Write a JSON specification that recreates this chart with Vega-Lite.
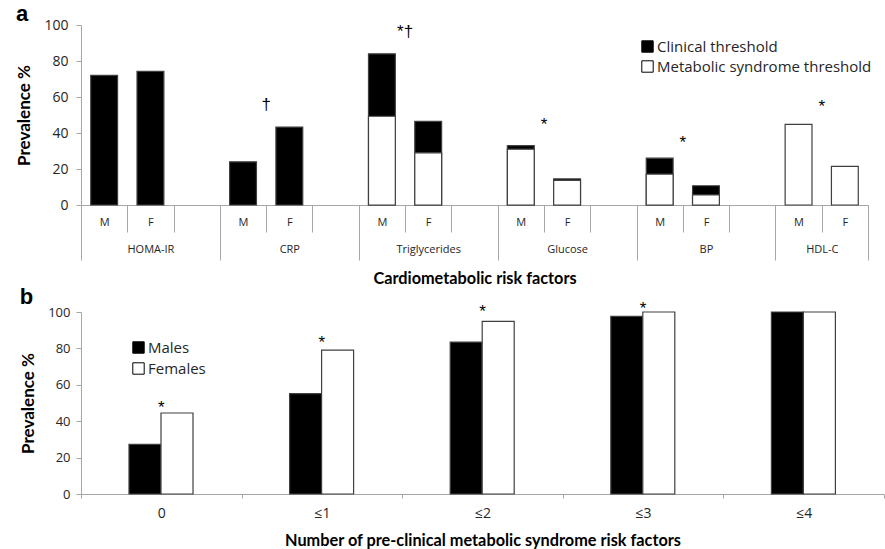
{
  "$schema": "https://vega.github.io/schema/vega-lite/v6.json",
  "padding": {"left": 15, "top": 3, "right": 0, "bottom": 0},
  "spacing": -2,
  "resolve": {"scale": {"fill": "independent"}, "legend": {"fill": "independent"}},
  "config": {
    "font": "Lato",
    "view": {"stroke": null},
    "axis": {
      "grid": false,
      "domainColor": "#a6a6a6",
      "tickColor": "#a6a6a6",
      "labelColor": "#262626",
      "titleColor": "#000000",
      "labelFont": "Open Sans",
      "titleFont": "Lato",
      "titleFontWeight": "bold",
      "titleFontSize": 16.3
    },
    "axisY": {"labelOverlap": false},
    "legend": {"labelFont": "Open Sans", "labelColor": "#262626", "labelLimit": 400},
    "title": {"font": "Liberation Sans", "fontWeight": "bold", "fontSize": 22, "color": "#000000"}
  },
  "vconcat": [
    {
      "width": 787,
      "height": 180,
      "title": {"text": "a", "anchor": "start", "frame": "bounds", "offset": -8},
      "layer": [
        {
          "data": {
            "values": [
              {"slot": "HOMA-IR M", "threshold": "Clinical threshold", "prevalence": 72},
              {"slot": "HOMA-IR F", "threshold": "Clinical threshold", "prevalence": 74.3},
              {"slot": "CRP M", "threshold": "Clinical threshold", "prevalence": 24},
              {"slot": "CRP F", "threshold": "Clinical threshold", "prevalence": 43.3},
              {"slot": "Triglycerides M", "threshold": "Clinical threshold", "prevalence": 84},
              {"slot": "Triglycerides F", "threshold": "Clinical threshold", "prevalence": 46.5},
              {"slot": "Glucose M", "threshold": "Clinical threshold", "prevalence": 33},
              {"slot": "Glucose F", "threshold": "Clinical threshold", "prevalence": 14.5},
              {"slot": "BP M", "threshold": "Clinical threshold", "prevalence": 26},
              {"slot": "BP F", "threshold": "Clinical threshold", "prevalence": 10.7},
              {"slot": "Triglycerides M", "threshold": "Metabolic syndrome threshold", "prevalence": 49.3},
              {"slot": "Triglycerides F", "threshold": "Metabolic syndrome threshold", "prevalence": 29},
              {"slot": "Glucose M", "threshold": "Metabolic syndrome threshold", "prevalence": 31},
              {"slot": "Glucose F", "threshold": "Metabolic syndrome threshold", "prevalence": 13.7},
              {"slot": "BP M", "threshold": "Metabolic syndrome threshold", "prevalence": 17.2},
              {"slot": "BP F", "threshold": "Metabolic syndrome threshold", "prevalence": 5.6},
              {"slot": "HDL-C M", "threshold": "Metabolic syndrome threshold", "prevalence": 44.8},
              {"slot": "HDL-C F", "threshold": "Metabolic syndrome threshold", "prevalence": 21.5}
            ]
          },
          "mark": {"type": "bar", "width": {"band": 0.58}, "stroke": "#404040", "strokeWidth": 1.2},
          "encoding": {
            "x": {
              "field": "slot", "type": "nominal", "sort": null,
              "scale": {"domain": ["HOMA-IR M", "HOMA-IR F", "HOMA-IR", "CRP M", "CRP F", "CRP", "Triglycerides M", "Triglycerides F", "Triglycerides", "Glucose M", "Glucose F", "Glucose", "BP M", "BP F", "BP", "HDL-C M", "HDL-C F"], "paddingInner": 0, "paddingOuter": 0},
              "axis": {
                "orient": "bottom",
                "title": null,
                "tickBand": "extent",
                "tickSize": 27,
                "labelAngle": 0,
                "labelFontSize": 11,
                "labelPadding": -16,
                "labelOverlap": false,
                "labelExpr": "isString(datum.value) && indexof(datum.value, ' ') > 0 ? slice(datum.value, -1) : ''"
              }
            },
            "y": {
              "field": "prevalence", "type": "quantitative", "stack": null,
              "scale": {"domain": [0, 100]},
              "axis": {"title": "Prevalence %", "values": [0, 20, 40, 60, 80, 100], "labelOverlap": false, "tickSize": 5, "labelFontSize": 14, "labelPadding": 8, "titlePadding": 10, "titleFontSize": 17}
            },
            "fill": {
              "field": "threshold", "type": "nominal",
              "scale": {"domain": ["Clinical threshold", "Metabolic syndrome threshold"], "range": ["#000000", "#ffffff"]},
              "legend": {"orient": "none", "legendX": 559, "legendY": 14, "title": null, "symbolType": "square", "symbolSize": 130, "symbolStrokeColor": "#000000", "symbolStrokeWidth": 1, "labelFontSize": 15, "labelOffset": 2, "rowPadding": 3}
            }
          }
        },
        {
          "data": {
            "values": [
              {"slot": "CRP F", "mark": "†", "height": 55.5},
              {"slot": "Triglycerides F", "mark": "*†", "height": 96},
              {"slot": "Glucose F", "mark": "*", "height": 44.5},
              {"slot": "BP F", "mark": "*", "height": 34.5},
              {"slot": "HDL-C F", "mark": "*", "height": 54.5}
            ]
          },
          "mark": {"type": "text", "font": "Liberation Sans", "fontSize": 17, "baseline": "middle", "align": "center", "color": "#000000"},
          "encoding": {
            "x": {
              "field": "slot", "type": "nominal", "sort": null, "bandPosition": 0,
              "scale": {"domain": ["HOMA-IR M", "HOMA-IR F", "HOMA-IR", "CRP M", "CRP F", "CRP", "Triglycerides M", "Triglycerides F", "Triglycerides", "Glucose M", "Glucose F", "Glucose", "BP M", "BP F", "BP", "HDL-C M", "HDL-C F"], "paddingInner": 0, "paddingOuter": 0},
              "axis": {
                "orient": "bottom",
                "title": "Cardiometabolic risk factors",
                "titlePadding": 10,
                "domain": false,
                "tickBand": "extent",
                "tickSize": 55,
                "tickOpacity": {"condition": {"test": "isString(datum.value) && indexof(datum.value, ' ') > 0 && datum.value != 'HDL-C F'", "value": 0}, "value": 1},
                "labelAngle": 0,
                "labelFontSize": 11,
                "labelPadding": -17,
                "labelOverlap": false,
                "labelOffset": {"condition": {"test": "datum.value == 'HDL-C F'", "value": -23}, "value": 0},
                "labelExpr": "isString(datum.value) && indexof(datum.value, ' F') > 0 ? split(datum.value, ' ')[0] : ''"
              }
            },
            "y": {"field": "height", "type": "quantitative", "axis": {"title": "Prevalence %", "values": [0, 20, 40, 60, 80, 100], "labelOverlap": false, "tickSize": 5, "labelFontSize": 14, "labelPadding": 8, "titlePadding": 10, "titleFontSize": 17}},
            "text": {"field": "mark"}
          }
        }
      ],
      "resolve": {"axis": {"x": "independent"}}
    },
    {
      "width": 803,
      "height": 182,
      "title": {"text": "b", "anchor": "start", "frame": "bounds", "offset": -9},
      "layer": [
        {
          "data": {
            "values": [
              {"n": "0", "sex": "Males", "prevalence": 27.3},
              {"n": "0", "sex": "Females", "prevalence": 44.5},
              {"n": "≤1", "sex": "Males", "prevalence": 55.1},
              {"n": "≤1", "sex": "Females", "prevalence": 79},
              {"n": "≤2", "sex": "Males", "prevalence": 83.5},
              {"n": "≤2", "sex": "Females", "prevalence": 94.9},
              {"n": "≤3", "sex": "Males", "prevalence": 97.6},
              {"n": "≤3", "sex": "Females", "prevalence": 100},
              {"n": "≤4", "sex": "Males", "prevalence": 100},
              {"n": "≤4", "sex": "Females", "prevalence": 100}
            ]
          },
          "mark": {"type": "bar", "stroke": "#404040", "strokeWidth": 1.2},
          "encoding": {
            "x": {
              "field": "n", "type": "nominal", "sort": null,
              "scale": {"domain": ["0", "≤1", "≤2", "≤3", "≤4"], "paddingInner": 0, "paddingOuter": 0},
              "axis": {"title": "Number of pre-clinical metabolic syndrome risk factors", "tickBand": "extent", "tickSize": 4, "labelAngle": 0, "labelFontSize": 14, "labelPadding": 8, "titlePadding": 12}
            },
            "xOffset": {
              "field": "sex", "type": "nominal", "sort": null,
              "scale": {"domain": ["Males", "Females"], "paddingInner": 0, "paddingOuter": 0, "range": [48, 112]}
            },
            "y": {
              "field": "prevalence", "type": "quantitative", "stack": null,
              "scale": {"domain": [0, 100]},
              "axis": {"title": "Prevalence %", "values": [0, 20, 40, 60, 80, 100], "labelOverlap": false, "tickSize": 5, "labelFontSize": 13, "labelPadding": 6, "titlePadding": 10, "titleFontSize": 17}
            },
            "fill": {
              "field": "sex", "type": "nominal",
              "scale": {"domain": ["Males", "Females"], "range": ["#000000", "#ffffff"]},
              "legend": {"orient": "none", "legendX": 50, "legendY": 28, "title": null, "symbolType": "square", "symbolSize": 130, "symbolStrokeColor": "#000000", "symbolStrokeWidth": 1, "labelFontSize": 15, "labelOffset": 2, "rowPadding": 4}
            }
          }
        },
        {
          "data": {
            "values": [
              {"n": "0", "mark": "*", "height": 47.3},
              {"n": "≤1", "mark": "*", "height": 83},
              {"n": "≤2", "mark": "*", "height": 100},
              {"n": "≤3", "mark": "*", "height": 101.7}
            ]
          },
          "mark": {"type": "text", "font": "Liberation Sans", "fontSize": 17, "baseline": "middle", "align": "center", "color": "#000000"},
          "encoding": {
            "x": {"field": "n", "type": "nominal", "sort": null, "scale": {"domain": ["0", "≤1", "≤2", "≤3", "≤4"], "paddingInner": 0, "paddingOuter": 0}},
            "y": {"field": "height", "type": "quantitative", "axis": {"title": "Prevalence %", "values": [0, 20, 40, 60, 80, 100], "labelOverlap": false, "tickSize": 5, "labelFontSize": 13, "labelPadding": 6, "titlePadding": 10, "titleFontSize": 17}},
            "text": {"field": "mark"}
          }
        }
      ]
    }
  ]
}
